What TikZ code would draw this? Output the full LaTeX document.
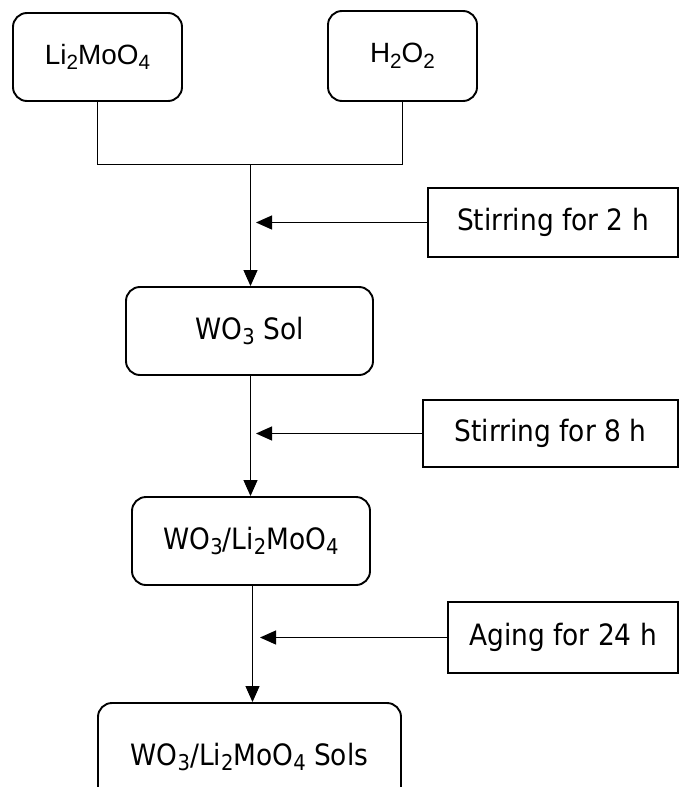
\documentclass[tikz,border=0pt]{standalone}
\usepackage{fontspec}
\usepackage{graphicx}
\setmainfont{Liberation Sans}
\newfontfamily\flowfont{DejaVu Sans Condensed}
\usetikzlibrary{arrows.meta}
\newcommand\sbs[1]{\raisebox{-0.2em}{\scalebox{0.74}{#1}}}
\begin{document}
\begin{tikzpicture}[x=1bp,y=-1bp,
 rbox/.style={draw,line width=1.9bp,rounded corners=14bp,inner sep=0pt,font=\flowfont\fontsize{29.5}{34}\selectfont},
 topbox/.style={rbox,font=\rmfamily\fontsize{28}{32}\selectfont},
 sqbox/.style={draw,line width=1.6bp,inner sep=0pt,font=\flowfont\fontsize{29.5}{34}\selectfont},
 conn/.style={line width=1.1bp},
 arr/.style={conn,-{Triangle[length=16bp,width=14bp]}}]
\clip (0,0) rectangle (680,787);
% top boxes
\node[topbox,minimum width=169bp,minimum height=88bp] (li) at (97.5,57) {Li\sbs{2}MoO\sbs{4}};
\node[topbox,minimum width=149bp,minimum height=90bp] (h2) at (402.5,56) {H\sbs{2}O\sbs{2}};
% main chain
\node[rbox,minimum width=247bp,minimum height=88bp] (sol) at (249.5,331) {WO\sbs{3} Sol};
\node[rbox,minimum width=238bp,minimum height=88bp] (mix) at (251,541) {WO\sbs{3}/Li\sbs{2}MoO\sbs{4}};
\node[rbox,minimum width=303bp,minimum height=108bp] (sols) at (249.5,757) {WO\sbs{3}/Li\sbs{2}MoO\sbs{4} Sols};
% side boxes
\node[sqbox,minimum width=250bp,minimum height=69bp] (st1) at (553,222.5) {Stirring for 2 h};
\node[sqbox,minimum width=255bp,minimum height=67bp] (st2) at (550.5,433.5) {Stirring for 8 h};
\node[sqbox,minimum width=230bp,minimum height=71bp] (age) at (563,637.5) {Aging for 24 h};
% junction
\coordinate (j) at (250.5,164.5);
\coordinate (k) at (252.5,0);
\draw[conn] (li.south) -- (li.south |- j) -- (h2.south |- j) -- (h2.south);
\draw[arr] (j) -- (j |- sol.north);
\draw[arr] (sol.south -| j) -- (j |- mix.north);
\draw[arr] (mix.south -| k) -- (k |- sols.north);
% side arrows
\coordinate (t1) at (256,0);
\coordinate (t3) at (260,0);
\draw[arr] (st1.west) -- (st1.west -| t1);
\draw[arr] (st2.west) -- (st2.west -| t1);
\draw[arr] (age.west) -- (age.west -| t3);
\end{tikzpicture}
\end{document}
